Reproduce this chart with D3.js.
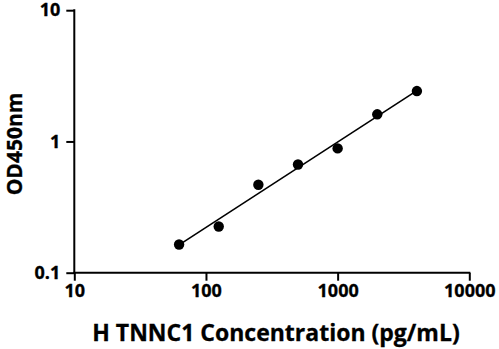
<!DOCTYPE html>
<html><head><meta charset="utf-8">
<script src="https://cdn.jsdelivr.net/npm/d3@7"></script>
<style>body{margin:0;background:#fff}svg{display:block}</style>
</head><body>
<script>
const concentrations = [62.5, 125, 250, 500, 1000, 2000, 4000];
const odValues = [0.164, 0.225, 0.468, 0.668, 0.885, 1.61, 2.42];
const fitX = [62.5, 4000];
const fitY = [0.163, 2.44];
const xTicks = [10, 100, 1000, 10000];
const yTicks = [0.1, 1, 10];
const xTitle = "H TNNC1 Concentration (pg/mL)";
const yTitle = "OD450nm";

const W = 499, H = 349;
const svg = d3.select("body").append("svg").attr("width", W).attr("height", H);
const font = "'Open Sans', sans-serif";
const x = d3.scaleLog().domain([10, 10000]).range([74.3, 469.3]);
const y = d3.scaleLog().domain([0.1, 10]).range([272.7, 10.2]);

const xa = svg.append("g").attr("transform", `translate(0,${y(0.1)})`)
  .call(d3.axisBottom(x).tickValues(xTicks).tickFormat(d3.format("d")).tickSizeOuter(0).tickSize(8).tickPadding(4));
const ya = svg.append("g").attr("transform", `translate(${x(10)},0)`)
  .call(d3.axisLeft(y).tickValues(yTicks).tickFormat(d => String(d)).tickSizeOuter(0).tickSize(8).tickPadding(6));
[xa, ya].forEach(a => {
  a.select(".domain").attr("stroke", "#000").attr("stroke-width", 2);
  a.selectAll(".tick line").attr("stroke", "#000").attr("stroke-width", 2);
  a.selectAll(".tick text").attr("fill", "#000").attr("font-family", font)
   .attr("font-weight", 700).attr("font-size", 18).attr("stroke", "#000").attr("stroke-width", 0.3);
});
xa.select(".domain").attr("d", `M${x(10)-1},0H${x(10000)+1}`);
ya.select(".domain").attr("d", `M0,${y(10)-1}V${y(0.1)+1}`);

svg.append("path")
  .attr("d", d3.line().x(d => x(d[0])).y(d => y(d[1]))(fitX.map((v, i) => [v, fitY[i]])))
  .attr("stroke", "#000").attr("stroke-width", 1.6).attr("fill", "none");

svg.selectAll("circle.pt").data(concentrations).enter().append("circle")
  .attr("cx", d => x(d)).attr("cy", (d, i) => y(odValues[i])).attr("r", 5.2).attr("fill", "#000");

svg.append("text").attr("x", 276).attr("y", 341).attr("text-anchor", "middle")
  .attr("font-family", font).attr("font-weight", 700).attr("font-size", 23)
  .attr("stroke", "#000").attr("stroke-width", 0.3).text(xTitle);
svg.append("text").attr("transform", `translate(22,144) rotate(-90)`).attr("text-anchor", "middle")
  .attr("font-family", font).attr("font-weight", 700).attr("font-size", 21)
  .attr("stroke", "#000").attr("stroke-width", 0.3).text(yTitle);
</script>
</body></html>
